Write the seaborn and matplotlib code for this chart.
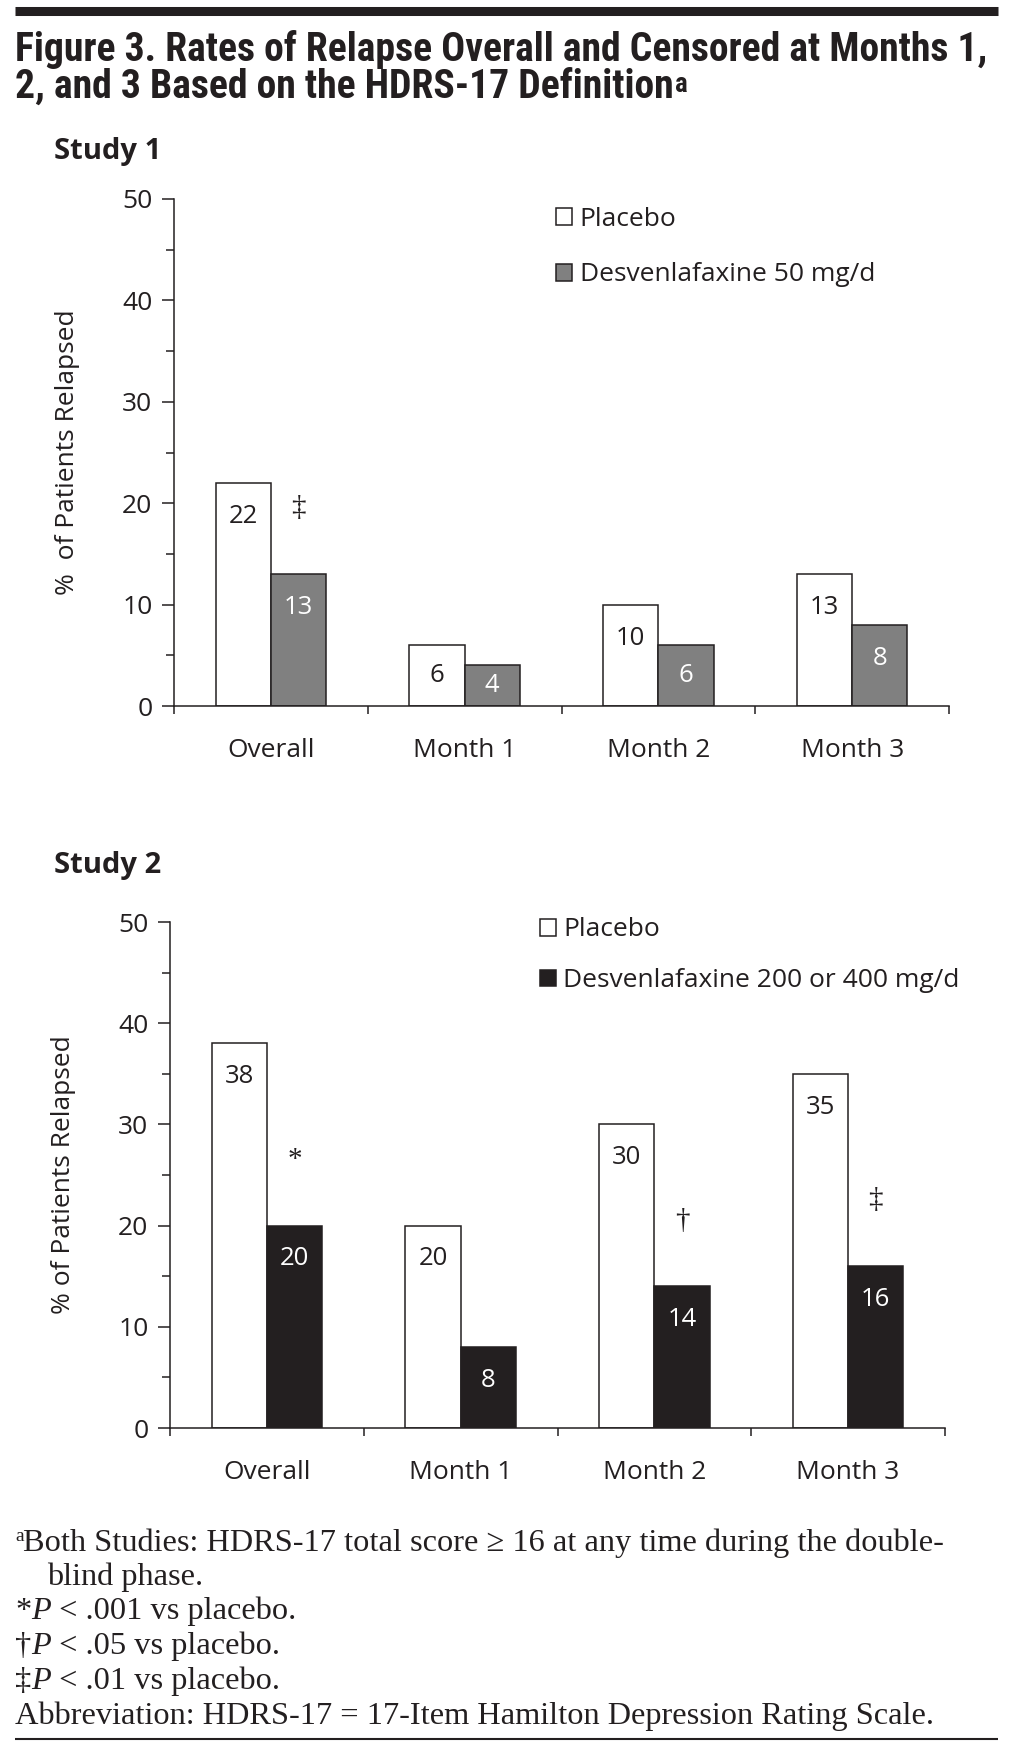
import matplotlib
matplotlib.use("Agg")
import matplotlib.pyplot as plt
import numpy as np
import pandas as pd
import seaborn as sns
from matplotlib.patches import Patch

# ── Dados ─────────────────────────────────────────────────────────
categorias = ["Overall", "Month 1", "Month 2", "Month 3"]
placebo_s1 = [22, 6, 10, 13]
droga_s1 = [13, 4, 6, 8]
placebo_s2 = [38, 20, 30, 35]
droga_s2 = [20, 8, 14, 16]
marcas_s1 = ["‡", "", "", ""]
marcas_s2 = ["*", "", "†", "‡"]
rotulo_placebo = "Placebo"
rotulo_droga_s1 = "Desvenlafaxine 50 mg/d"
rotulo_droga_s2 = "Desvenlafaxine 200 or 400 mg/d"
titulo = ["Figure 3. Rates of Relapse Overall and Censored at Months 1,",
          "2, and 3 Based on the HDRS-17 Definition"]

# ── Estilo ────────────────────────────────────────────────────────
TINTA = "#231f20"
CINZA = "#808080"
SANS = ["Open Sans", "DejaVu Sans"]
TITULO = ["Roboto Condensed", "Liberation Sans Narrow", "Open Sans", "DejaVu Sans"]
SERIF = ["Liberation Serif", "DejaVu Serif"]
TAM = 19

sns.set_theme(style="ticks")
plt.rcParams["font.family"] = SANS
plt.rcParams.update({"axes.edgecolor": TINTA, "xtick.color": TINTA,
                     "ytick.color": TINTA, "text.color": TINTA,
                     "axes.labelcolor": TINTA, "axes.linewidth": 1.1})

fig = plt.figure(figsize=(10.13, 17.52), dpi=100)
ax1 = fig.add_axes([174 / 1013, 1 - 706 / 1752, 775 / 1013, 507 / 1752])
ax2 = fig.add_axes([170 / 1013, 1 - 1428 / 1752, 775 / 1013, 506 / 1752])
fundo = fig.add_axes([0, 0, 1, 1], zorder=-1)
fundo.set_xlim(0, 1013)
fundo.set_ylim(1752, 0)
fundo.axis("off")


def painel(ax, placebo, droga, rotulo_droga, cor_droga, marcas, ylabel, leg_xy, leg_sp):
    df = pd.DataFrame({
        "Periodo": categorias * 2,
        "Grupo": [rotulo_placebo] * len(categorias) + [rotulo_droga] * len(categorias),
        "Valor": placebo + droga,
    })
    sns.barplot(data=df, x="Periodo", y="Valor", hue="Grupo", order=categorias,
                hue_order=[rotulo_placebo, rotulo_droga],
                palette={rotulo_placebo: "white", rotulo_droga: cor_droga},
                width=0.57, saturation=1, edgecolor=TINTA, linewidth=1.1,
                errorbar=None, legend=False, ax=ax)
    ax.set_xlim(-0.5, len(categorias) - 0.5)
    ax.set_ylim(0, 50)
    sns.despine(ax=ax)

    # rótulos de valor dentro das barras
    for cont, cor_txt in zip(ax.containers, [TINTA, "white"]):
        for barra in cont:
            v = barra.get_height()
            ax.text(barra.get_x() + barra.get_width() / 2, max(v - 3.3, v / 2),
                    f"{v:.0f}", ha="center", va="center", fontsize=18.5, color=cor_txt)
    # marcas de significância
    for barra, m in zip(ax.containers[1], marcas):
        if m:
            ax.text(barra.get_x() + barra.get_width() / 2, barra.get_height() + 6.5,
                    m, ha="center", va="center", fontsize=21, family=SERIF)

    ax.set_xticks(range(len(categorias)), categorias)
    ax.set_xticks(np.arange(-0.5, len(categorias)), minor=True)
    ax.tick_params(axis="x", which="major", length=0, pad=23, labelsize=TAM)
    ax.tick_params(axis="x", which="minor", length=6, width=1.1)
    ax.set_yticks(range(0, 51, 10))
    ax.set_yticks(range(5, 50, 10), minor=True)
    ax.tick_params(axis="y", which="major", length=8.6, width=1.1, pad=7, labelsize=TAM)
    ax.tick_params(axis="y", which="minor", length=5.5, width=1.1)
    ax.set_xlabel("")
    ax.set_ylabel(ylabel, fontsize=TAM)
    ax.yaxis.set_label_coords(-0.121, 0.5)

    alcas = [Patch(facecolor="white", edgecolor=TINTA, linewidth=1.1),
             Patch(facecolor=cor_droga, edgecolor=TINTA, linewidth=1.1)]
    ax.legend(alcas, [rotulo_placebo, rotulo_droga], loc="upper left",
              bbox_to_anchor=leg_xy, frameon=False, fontsize=TAM,
              handlelength=0.6, handleheight=0.6, handletextpad=0.3,
              labelspacing=leg_sp, borderpad=0, borderaxespad=0)


painel(ax1, placebo_s1, droga_s1, rotulo_droga_s1, CINZA, marcas_s1,
       "%  of Patients Relapsed", (0.493, 0.985), 1.17)
painel(ax2, placebo_s2, droga_s2, rotulo_droga_s2, TINTA, marcas_s2,
       "% of Patients Relapsed", (0.477, 1.009), 0.98)

# ── Título e cabeçalhos ───────────────────────────────────────────
renderer = fig.canvas.get_renderer()
fundo.hlines(11, 15, 998, color=TINTA, lw=6.5)
t1 = fundo.text(15, 61, titulo[0], fontsize=24, weight="bold", family=TITULO, va="baseline")
w = t1.get_window_extent(renderer).width
tam = 24 * 975 / w
t1.set_fontsize(tam)
t2 = fundo.text(15, 98, titulo[1], fontsize=tam, weight="bold", family=TITULO, va="baseline")
fundo.annotate("a", xy=(1, 1), xycoords=t2, xytext=(1, -2), textcoords="offset points",
               fontsize=tam * 0.68, weight="bold", family=TITULO, va="top")

for y, txt in [(151, "Study 1"), (866, "Study 2")]:
    fundo.text(54, y, txt, fontsize=21, weight="bold", va="center")

# ── Notas de rodapé ───────────────────────────────────────────────
TAM_NOTA = 23.3
base = [1551, 1585, 1619, 1654, 1689, 1724]
fundo.text(15, base[0] - 10, "a", fontsize=TAM_NOTA * 0.6, family=SERIF, va="baseline")
fundo.text(23, base[0], "Both Studies: HDRS-17 total score ≥ 16 at any time during the double-",
           fontsize=TAM_NOTA, family=SERIF, va="baseline")
fundo.text(47, base[1], "blind phase.", fontsize=TAM_NOTA, family=SERIF, va="baseline")
for y, simb, resto in [(base[2], "*", " < .001 vs placebo."),
                       (base[3], "†", " < .05 vs placebo."),
                       (base[4], "‡", " < .01 vs placebo.")]:
    a = fundo.text(15, y, simb, fontsize=TAM_NOTA, family=SERIF, va="baseline")
    b = fundo.annotate("P", xy=(1, 0), xycoords=a, va="bottom", fontsize=TAM_NOTA,
                       family=SERIF, style="italic")
    fundo.annotate(resto, xy=(1, 0), xycoords=b, va="bottom", fontsize=TAM_NOTA, family=SERIF)
fundo.text(15, base[5], "Abbreviation: HDRS-17 = 17-Item Hamilton Depression Rating Scale.",
           fontsize=TAM_NOTA, family=SERIF, va="baseline")
fundo.hlines(1739, 15, 998, color=TINTA, lw=1.5)

fig.savefig("out.png", dpi=100)
